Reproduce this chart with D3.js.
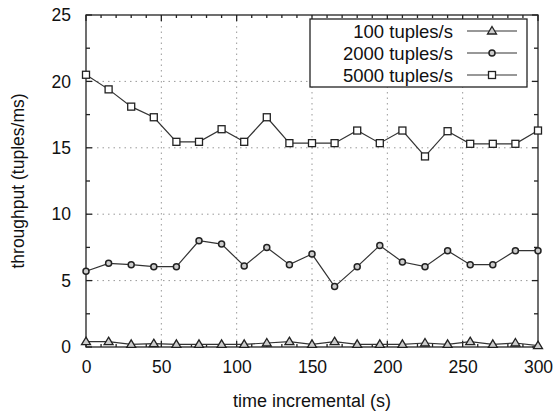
<!DOCTYPE html>
<html>
<head>
<meta charset="utf-8">
<script src="https://cdn.jsdelivr.net/npm/d3@7"></script>
<style>
  body { margin: 0; background: #fff; }
  text { font-family: "Liberation Sans", Arial, sans-serif; fill: #111; }
</style>
</head>
<body>
<div id="wrapper"></div>
<script>
// data
const times = d3.range(0, 301, 15)
const rate100 = [0.4, 0.4, 0.2, 0.25, 0.2, 0.2, 0.2, 0.2, 0.3, 0.4, 0.2, 0.4, 0.2, 0.2, 0.2, 0.3, 0.2, 0.4, 0.2, 0.3, 0.1]
const rate2000 = [5.7, 6.3, 6.2, 6.05, 6.05, 8.0, 7.75, 6.1, 7.5, 6.2, 7.0, 4.55, 6.05, 7.65, 6.4, 6.05, 7.25, 6.2, 6.2, 7.25, 7.25]
const rate5000 = [20.5, 19.4, 18.1, 17.3, 15.45, 15.45, 16.4, 15.45, 17.3, 15.35, 15.35, 15.35, 16.3, 15.35, 16.3, 14.35, 16.25, 15.3, 15.3, 15.3, 16.3]
const seriesNames = ['100 tuples/s', '2000 tuples/s', '5000 tuples/s']
const xTicks = [0, 50, 100, 150, 200, 250, 300]
const yTicks = [0, 5, 10, 15, 20, 25]

const series = [
    {name: seriesNames[0], values: rate100, marker: 'triangle'},
    {name: seriesNames[1], values: rate2000, marker: 'circle'},
    {name: seriesNames[2], values: rate5000, marker: 'square'}
]

let dimensions = {
    width: 553,
    height: 415,
    margin: {top: 15, right: 15, bottom: 68, left: 86}
}
dimensions.boundedWidth = dimensions.width - dimensions.margin.left - dimensions.margin.right
dimensions.boundedHeight = dimensions.height - dimensions.margin.top - dimensions.margin.bottom

const wrapper = d3.select('#wrapper')
    .append('svg')
        .attr('width', dimensions.width)
        .attr('height', dimensions.height)

const bounds = wrapper.append('g')
    .attr('transform', `translate(${dimensions.margin.left},${dimensions.margin.top})`)

const xScale = d3.scaleLinear()
    .domain([0, 300])
    .range([0, dimensions.boundedWidth])

const yScale = d3.scaleLinear()
    .domain([0, 25])
    .range([dimensions.boundedHeight, 0])

// grid
bounds.append('g')
    .selectAll('line')
    .data(xTicks.slice(1, -1))
    .enter().append('line')
        .attr('x1', d => xScale(d)).attr('x2', d => xScale(d))
        .attr('y1', 0).attr('y2', dimensions.boundedHeight)
        .attr('stroke', '#999').attr('stroke-dasharray', '1.5,4')
bounds.append('g')
    .selectAll('line')
    .data(yTicks.slice(1, -1))
    .enter().append('line')
        .attr('y1', d => yScale(d)).attr('y2', d => yScale(d))
        .attr('x1', 0).attr('x2', dimensions.boundedWidth)
        .attr('stroke', '#999').attr('stroke-dasharray', '1.5,4')

// axes, with minor ticks inside on all four sides
const xMinor = d3.range(0, 301, 10)
const yMinor = d3.range(0, 25.1, 2.5)

const xAxis = bounds.append('g')
    .attr('transform', `translate(0,${dimensions.boundedHeight})`)
    .call(d3.axisBottom(xScale).tickValues(xTicks).tickSize(0).tickPadding(14))
xAxis.select('.domain').remove()
xAxis.selectAll('text').attr('font-size', 17.5).attr('font-family', '"Liberation Sans", Arial, sans-serif')

const yAxis = bounds.append('g')
    .call(d3.axisLeft(yScale).tickValues(yTicks).tickSize(0).tickPadding(15))
yAxis.select('.domain').remove()
yAxis.selectAll('text').attr('font-size', 17.5).attr('font-family', '"Liberation Sans", Arial, sans-serif')

const frame = bounds.append('g').attr('stroke', '#222').attr('stroke-width', 1.3)
frame.append('rect')
    .attr('width', dimensions.boundedWidth)
    .attr('height', dimensions.boundedHeight)
    .attr('fill', 'none')
frame.selectAll('.xt')
    .data(xMinor)
    .enter().append('line')
        .attr('x1', d => xScale(d)).attr('x2', d => xScale(d))
        .attr('y1', dimensions.boundedHeight).attr('y2', d => dimensions.boundedHeight - (d % 50 === 0 ? 6 : 3))
frame.selectAll('.xtt')
    .data(xMinor)
    .enter().append('line')
        .attr('x1', d => xScale(d)).attr('x2', d => xScale(d))
        .attr('y1', 0).attr('y2', d => (d % 50 === 0 ? 6 : 3))
frame.selectAll('.yt')
    .data(yMinor)
    .enter().append('line')
        .attr('y1', d => yScale(d)).attr('y2', d => yScale(d))
        .attr('x1', 0).attr('x2', d => (d % 5 === 0 ? 6 : 4))
frame.selectAll('.ytr')
    .data(yMinor)
    .enter().append('line')
        .attr('y1', d => yScale(d)).attr('y2', d => yScale(d))
        .attr('x1', dimensions.boundedWidth).attr('x2', d => dimensions.boundedWidth - (d % 5 === 0 ? 6 : 4))

// markers
function drawMarker(g, type) {
    if (type === 'triangle') {
        g.append('path').attr('d', 'M0,-4.5L4.5,3L-4.5,3Z')
            .attr('fill', '#ccc').attr('stroke', '#222').attr('stroke-width', 1.3)
    } else if (type === 'circle') {
        g.append('circle').attr('r', 3)
            .attr('fill', '#ccc').attr('stroke', '#222').attr('stroke-width', 1.5)
    } else {
        g.append('rect').attr('x', -3.5).attr('y', -3.5).attr('width', 7).attr('height', 7)
            .attr('fill', '#fff').attr('stroke', '#222').attr('stroke-width', 1.3)
    }
}

const lineGenerator = d3.line()
    .x((d, i) => xScale(times[i]))
    .y(d => yScale(d))

series.forEach(s => {
    bounds.append('path')
        .datum(s.values)
        .attr('d', lineGenerator)
        .attr('fill', 'none')
        .attr('stroke', '#333')
        .attr('stroke-width', 1.2)
    s.values.forEach((v, i) => {
        const g = bounds.append('g')
            .attr('transform', `translate(${xScale(times[i])},${yScale(v)})`)
        drawMarker(g, s.marker)
    })
})

// legend
const legend = wrapper.append('g').attr('transform', 'translate(310,19)')
legend.append('rect')
    .attr('width', 217).attr('height', 68)
    .attr('fill', '#fff').attr('stroke', '#222').attr('stroke-width', 1.3)
series.forEach((s, i) => {
    const row = legend.append('g').attr('transform', `translate(0,${12 + i * 22})`)
    row.append('text')
        .attr('x', 143).attr('y', 6.5)
        .attr('text-anchor', 'end')
        .attr('font-size', 18.5)
        .text(s.name)
    row.append('line')
        .attr('x1', 157).attr('x2', 207)
        .attr('stroke', '#333').attr('stroke-width', 1.2)
    const m = row.append('g').attr('transform', 'translate(182,0)')
    drawMarker(m, s.marker)
})

// axis labels
wrapper.append('text')
    .attr('x', dimensions.margin.left + dimensions.boundedWidth / 2)
    .attr('y', 407)
    .attr('text-anchor', 'middle')
    .attr('font-size', 18)
    .text('time incremental (s)')

wrapper.append('text')
    .attr('transform', `translate(24,${dimensions.margin.top + dimensions.boundedHeight / 2}) rotate(-90)`)
    .attr('text-anchor', 'middle')
    .attr('font-size', 17.5)
    .text('throughput (tuples/ms)')
</script>
</body>
</html>
